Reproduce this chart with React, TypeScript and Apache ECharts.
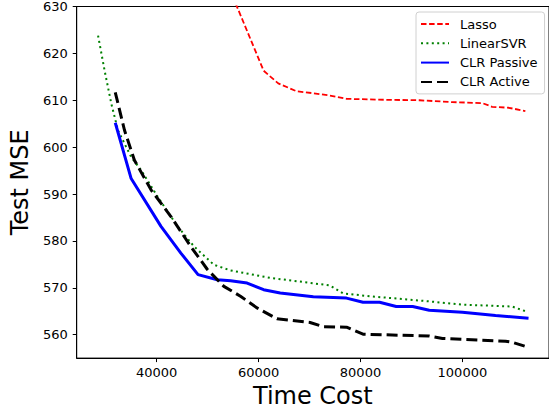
import React, { useEffect, useRef } from "react";
import * as echarts from "echarts";

const seriesNames = ["Lasso", "LinearSVR", "CLR Passive", "CLR Active"];

const lassoPoints: [number, number][] = [
  [50000, 645], [60987, 616.3], [63855, 613.6], [67502, 611.9], [70740, 611.5],
  [73993, 611.0], [77249, 610.3], [85052, 610.1], [91547, 610.0], [98042, 609.6],
  [103894, 609.4], [105844, 608.6], [109101, 608.4], [112359, 607.7],
];

const linearSvrPoints: [number, number][] = [
  [28492, 623.8], [29780, 616.3], [31087, 609.3], [32393, 603.6], [34987, 597.9],
  [36938, 595.1], [40195, 589.4], [44096, 583.1], [47334, 578.8], [51235, 574.9],
  [54492, 573.7], [62294, 572.1], [67502, 571.4], [73993, 570.5], [76588, 568.8],
  [81795, 568.2], [93498, 567.1], [99993, 566.4], [109745, 566.0], [112359, 565.0],
];

const clrPassivePoints: [number, number][] = [
  [31866, 605.2], [34987, 593.3], [40839, 583.1], [44740, 577.4], [48114, 572.8],
  [51898, 571.7], [54492, 571.5], [57750, 571.0], [60987, 569.6], [64245, 568.9],
  [70740, 568.1], [77249, 567.8], [80493, 566.9], [83749, 566.9], [87007, 566.0],
  [90245, 566.0], [93498, 565.2], [99993, 564.8], [106508, 564.1], [112983, 563.5],
];

const clrActivePoints: [number, number][] = [
  [31866, 611.7], [33680, 603.6], [35631, 597.2], [38888, 590.9], [42789, 585.2],
  [46690, 578.8], [49948, 573.9], [53186, 570.3], [56443, 568.2], [59700, 565.7],
  [63601, 563.4], [70097, 562.6], [72691, 561.7], [77255, 561.6], [80493, 560.1],
  [93498, 559.7], [96092, 559.2], [108459, 558.6], [109745, 558.4], [112359, 557.5],
];

const xTicks = [40000, 60000, 80000, 100000];
const yTicks = [560, 570, 580, 590, 600, 610, 620, 630];

const FONT = "DejaVu Sans";

export default function App() {
  const ref = useRef<HTMLDivElement>(null);
  useEffect(() => {
    if (!ref.current) return;
    const chart = echarts.init(ref.current, null, { renderer: "svg" });
    chart.setOption({
      animation: false,
      backgroundColor: "#ffffff",
      textStyle: { fontFamily: FONT },
      grid: {
        left: 75,
        right: -2,
        top: 6,
        bottom: 54,
        show: true,
        borderColor: "#000",
        borderWidth: 1,
        backgroundColor: "transparent",
      },
      legend: {
        orient: "vertical",
        left: 416,
        top: 12,
        data: seriesNames,
        itemWidth: 28,
        itemHeight: 13,
        itemGap: 6.3,
        padding: [5.5, 7, 5.5, 4],
        borderColor: "#d0d0d0",
        borderWidth: 1,
        borderRadius: 3,
        backgroundColor: "rgba(255,255,255,0.8)",
        itemStyle: { opacity: 0 },
        textStyle: { fontFamily: FONT, fontSize: 13, color: "#000", padding: [0, 0, 0, 6] },
      },
      xAxis: {
        type: "value",
        min: 24300,
        max: 117000,
        name: "Time Cost",
        nameLocation: "middle",
        nameGap: 23,
        nameTextStyle: { fontFamily: FONT, fontSize: 24, color: "#000" },
        axisLine: { show: true, lineStyle: { color: "#000", width: 1 } },
        axisTick: { show: true, length: 4, inside: false, customValues: xTicks, lineStyle: { color: "#000" } },
        axisLabel: {
          customValues: xTicks,
          margin: 8,
          fontSize: 13,
          color: "#000",
          fontFamily: FONT,
          formatter: (v: number) => String(v),
        },
        splitLine: { show: false },
      },
      yAxis: {
        type: "value",
        min: 555,
        max: 630,
        name: "Test MSE",
        nameLocation: "middle",
        nameGap: 38,
        nameTextStyle: { fontFamily: FONT, fontSize: 24, color: "#000" },
        axisLine: { show: true, lineStyle: { color: "#000", width: 1 } },
        axisTick: { show: true, length: 4, inside: false, customValues: yTicks, lineStyle: { color: "#000" } },
        axisLabel: {
          customValues: yTicks,
          margin: 9,
          fontSize: 13,
          color: "#000",
          fontFamily: FONT,
          formatter: (v: number) => String(v),
        },
        splitLine: { show: false },
      },
      series: [
        {
          name: "Lasso",
          type: "line",
          data: lassoPoints,
          symbol: "none",
          clip: true,
          color: "#ff0000",
          lineStyle: { color: "#ff0000", width: 1.8, type: [5.5, 2.6] },
        },
        {
          name: "LinearSVR",
          type: "line",
          data: linearSvrPoints,
          symbol: "none",
          clip: true,
          color: "#008000",
          lineStyle: { color: "#008000", width: 2, type: [2, 3.4] },
        },
        {
          name: "CLR Passive",
          type: "line",
          data: clrPassivePoints,
          symbol: "none",
          clip: true,
          color: "#0000ff",
          lineStyle: { color: "#0000ff", width: 3, type: "solid" },
        },
        {
          name: "CLR Active",
          type: "line",
          data: clrActivePoints,
          symbol: "none",
          clip: true,
          color: "#000000",
          lineStyle: { color: "#000000", width: 3, type: [11, 5] },
        },
      ],
    });
    return () => chart.dispose();
  }, []);
  return (
    <div
      ref={ref}
      style={{ position: "fixed", left: 0, top: 0, width: 549, height: 413 }}
    />
  );
}
